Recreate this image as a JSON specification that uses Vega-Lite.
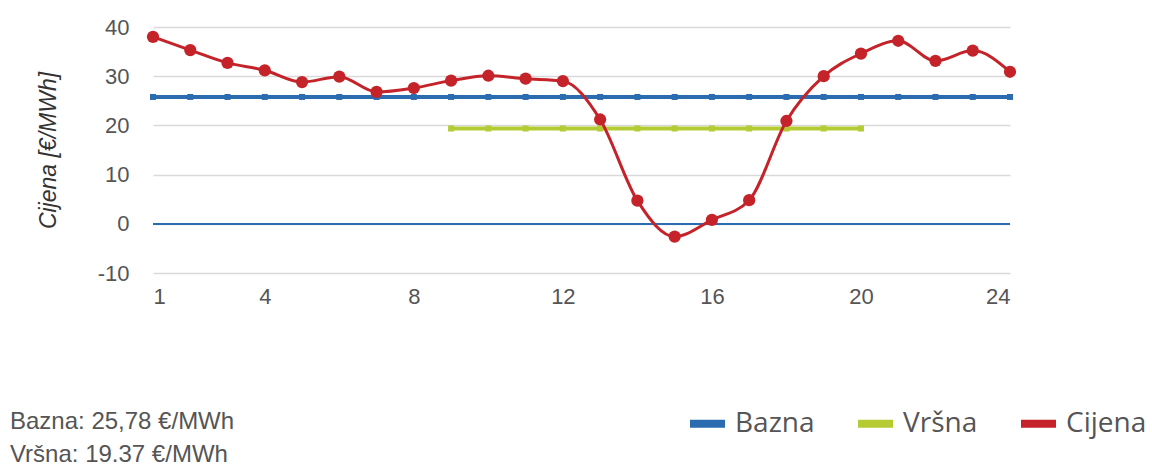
{
  "$schema": "https://vega.github.io/schema/vega-lite/v6.json",
  "autosize": {"type": "none"},
  "padding": {"left": 153, "top": 27, "right": 142, "bottom": 195},
  "width": 857,
  "height": 246,
  "background": "white",
  "config": {"view": {"stroke": null}, "font": "Liberation Sans"},
  "title": {
    "text": "Bazna: 25,78 €/MWh",
    "subtitle": "Vršna: 19.37 €/MWh",
    "orient": "bottom",
    "anchor": "start",
    "frame": "group",
    "dx": -143,
    "offset": -30,
    "font": "Liberation Sans",
    "fontSize": 24,
    "fontWeight": "normal",
    "color": "#555555",
    "subtitleFont": "Liberation Sans",
    "subtitleFontSize": 24,
    "subtitleColor": "#555555",
    "subtitlePadding": 9
  },
  "data": {
    "values": [
      {"hour": 1, "series": "Bazna", "value": 25.78},
      {"hour": 2, "series": "Bazna", "value": 25.78},
      {"hour": 3, "series": "Bazna", "value": 25.78},
      {"hour": 4, "series": "Bazna", "value": 25.78},
      {"hour": 5, "series": "Bazna", "value": 25.78},
      {"hour": 6, "series": "Bazna", "value": 25.78},
      {"hour": 7, "series": "Bazna", "value": 25.78},
      {"hour": 8, "series": "Bazna", "value": 25.78},
      {"hour": 9, "series": "Bazna", "value": 25.78},
      {"hour": 10, "series": "Bazna", "value": 25.78},
      {"hour": 11, "series": "Bazna", "value": 25.78},
      {"hour": 12, "series": "Bazna", "value": 25.78},
      {"hour": 13, "series": "Bazna", "value": 25.78},
      {"hour": 14, "series": "Bazna", "value": 25.78},
      {"hour": 15, "series": "Bazna", "value": 25.78},
      {"hour": 16, "series": "Bazna", "value": 25.78},
      {"hour": 17, "series": "Bazna", "value": 25.78},
      {"hour": 18, "series": "Bazna", "value": 25.78},
      {"hour": 19, "series": "Bazna", "value": 25.78},
      {"hour": 20, "series": "Bazna", "value": 25.78},
      {"hour": 21, "series": "Bazna", "value": 25.78},
      {"hour": 22, "series": "Bazna", "value": 25.78},
      {"hour": 23, "series": "Bazna", "value": 25.78},
      {"hour": 24, "series": "Bazna", "value": 25.78},
      {"hour": 9, "series": "Vršna", "value": 19.37},
      {"hour": 10, "series": "Vršna", "value": 19.37},
      {"hour": 11, "series": "Vršna", "value": 19.37},
      {"hour": 12, "series": "Vršna", "value": 19.37},
      {"hour": 13, "series": "Vršna", "value": 19.37},
      {"hour": 14, "series": "Vršna", "value": 19.37},
      {"hour": 15, "series": "Vršna", "value": 19.37},
      {"hour": 16, "series": "Vršna", "value": 19.37},
      {"hour": 17, "series": "Vršna", "value": 19.37},
      {"hour": 18, "series": "Vršna", "value": 19.37},
      {"hour": 19, "series": "Vršna", "value": 19.37},
      {"hour": 20, "series": "Vršna", "value": 19.37},
      {"hour": 1, "series": "Cijena", "value": 38.0},
      {"hour": 2, "series": "Cijena", "value": 35.3},
      {"hour": 3, "series": "Cijena", "value": 32.7},
      {"hour": 4, "series": "Cijena", "value": 31.2},
      {"hour": 5, "series": "Cijena", "value": 28.8},
      {"hour": 6, "series": "Cijena", "value": 29.9},
      {"hour": 7, "series": "Cijena", "value": 26.8},
      {"hour": 8, "series": "Cijena", "value": 27.6},
      {"hour": 9, "series": "Cijena", "value": 29.1},
      {"hour": 10, "series": "Cijena", "value": 30.1},
      {"hour": 11, "series": "Cijena", "value": 29.5},
      {"hour": 12, "series": "Cijena", "value": 29.0},
      {"hour": 13, "series": "Cijena", "value": 21.2},
      {"hour": 14, "series": "Cijena", "value": 4.7},
      {"hour": 15, "series": "Cijena", "value": -2.6},
      {"hour": 16, "series": "Cijena", "value": 0.8},
      {"hour": 17, "series": "Cijena", "value": 4.8},
      {"hour": 18, "series": "Cijena", "value": 20.9},
      {"hour": 19, "series": "Cijena", "value": 30.0},
      {"hour": 20, "series": "Cijena", "value": 34.6},
      {"hour": 21, "series": "Cijena", "value": 37.2},
      {"hour": 22, "series": "Cijena", "value": 33.1},
      {"hour": 23, "series": "Cijena", "value": 35.2},
      {"hour": 24, "series": "Cijena", "value": 30.9}
    ]
  },
  "encoding": {
    "x": {
      "field": "hour",
      "type": "quantitative",
      "scale": {"domain": [1, 24], "nice": false, "zero": false},
      "axis": {
        "values": [1, 4, 8, 12, 16, 20, 24],
        "grid": false,
        "domain": false,
        "ticks": false,
        "labelFontSize": 22,
        "labelColor": "#555555",
        "labelPadding": 13,
        "labelFont": "Liberation Sans",
        "title": null
      }
    },
    "y": {
      "field": "value",
      "type": "quantitative",
      "scale": {"domain": [-10, 40], "nice": false},
      "axis": {
        "values": [-10, 0, 10, 20, 30, 40],
        "labelExpr": "'' + datum.value",
        "grid": true,
        "gridColor": "#d9d9d9",
        "gridWidth": 1.5,
        "domain": false,
        "ticks": false,
        "labelFontSize": 22,
        "labelColor": "#555555",
        "labelPadding": 24,
        "labelFont": "Liberation Sans",
        "title": "Cijena [€/MWh]",
        "titleFont": "Liberation Sans",
        "titleFontSize": 23,
        "titleFontStyle": "italic",
        "titleFontWeight": "normal",
        "titleColor": "#333333",
        "titlePadding": 37
      }
    },
    "color": {
      "field": "series",
      "type": "nominal",
      "scale": {"domain": ["Bazna", "Vršna", "Cijena"], "range": ["#2b6cb0", "#b4cb34", "#c4232a"]},
      "legend": {
        "title": null,
        "orient": "none",
        "direction": "horizontal",
        "legendX": 533,
        "legendY": 375,
        "symbolType": "stroke",
        "symbolSize": 1225,
        "symbolStrokeWidth": 8,
        "symbolOpacity": 1,
        "labelFont": "Open Sans",
        "labelFontSize": 28,
        "labelColor": "#555555",
        "labelOffset": 6,
        "columnPadding": 27,
        "symbolOffset": 0
      }
    }
  },
  "layer": [
    {
      "mark": {"type": "rule", "color": "#2b6cb0", "strokeWidth": 1.5},
      "encoding": {"y": {"datum": 0}, "x": {"value": 0}, "x2": {"value": 857}, "color": {"value": "#2b6cb0"}}
    },
    {
      "transform": [{"filter": "datum.series !== 'Cijena'"}],
      "mark": {"type": "line", "strokeWidth": 4, "point": {"shape": "square", "size": 36, "filled": true, "opacity": 1}}
    },
    {
      "transform": [{"filter": "datum.series === 'Cijena'"}],
      "mark": {"type": "line", "strokeWidth": 3, "interpolate": "monotone", "point": {"shape": "circle", "size": 150, "filled": true, "opacity": 1}}
    }
  ]
}
